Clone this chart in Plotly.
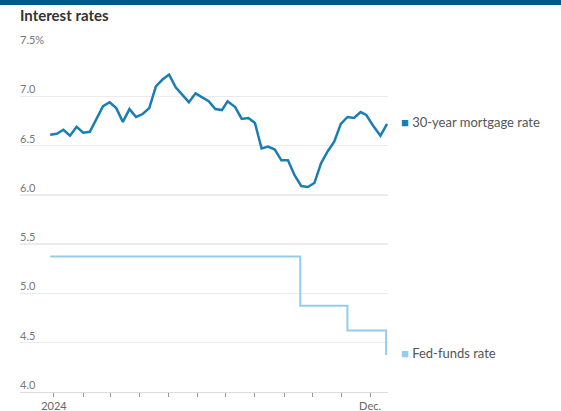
import plotly.graph_objects as go

mort_dates = ["2023-12-28","2024-01-04","2024-01-11","2024-01-18","2024-01-25","2024-02-01","2024-02-08",
              "2024-02-15","2024-02-22","2024-02-29","2024-03-07","2024-03-14","2024-03-21","2024-03-28",
              "2024-04-04","2024-04-11","2024-04-18","2024-04-25","2024-05-02","2024-05-09","2024-05-16",
              "2024-05-23","2024-05-30","2024-06-06","2024-06-13","2024-06-20","2024-06-27","2024-07-03",
              "2024-07-11","2024-07-18","2024-07-25","2024-08-01","2024-08-08","2024-08-15","2024-08-22",
              "2024-08-29","2024-09-05","2024-09-12","2024-09-19","2024-09-26","2024-10-03","2024-10-10",
              "2024-10-17","2024-10-24","2024-10-31","2024-11-07","2024-11-14","2024-11-21","2024-11-27",
              "2024-12-05","2024-12-12","2024-12-19"]
mort_rates = [6.61,6.62,6.66,6.60,6.69,6.63,6.64,6.77,6.90,6.94,6.88,6.74,6.87,6.79,6.82,6.88,7.10,7.17,7.22,
              7.09,7.02,6.94,7.03,6.99,6.95,6.87,6.86,6.95,6.89,6.77,6.78,6.73,6.47,6.49,6.46,6.35,6.35,6.20,
              6.09,6.08,6.12,6.32,6.44,6.54,6.72,6.79,6.78,6.84,6.81,6.69,6.60,6.72]

fed_dates = ["2023-12-28","2024-09-18","2024-11-07","2024-12-18"]
fed_rates = [5.375,4.875,4.625,4.375]

x_tickvals = ["2024-%02d-01" % m for m in range(1, 13)]
x_ticktext = ["2024"] + [""] * 10 + ["Dec."]
y_tickvals = [4.0, 4.5, 5.0, 5.5, 6.0, 6.5, 7.0, 7.5]
y_ticktext = ["4.0", "4.5", "5.0", "5.5", "6.0", "6.5", "7.0", "7.5%"]

MORT_COLOR = "#1a7db4"
FED_COLOR = "#95cced"
FONT = "Lato"

fig = go.Figure()
fig.add_trace(go.Scatter(x=fed_dates, y=fed_rates, mode="lines", line_shape="hv",
                         line=dict(color=FED_COLOR, width=2), hoverinfo="skip", showlegend=False))
fig.add_trace(go.Scatter(x=mort_dates, y=mort_rates, mode="lines",
                         line=dict(color=MORT_COLOR, width=2.5), hoverinfo="skip", showlegend=False))

annotations = []
for v, t in zip(y_tickvals, y_ticktext):
    annotations.append(dict(xref="paper", yref="y", x=0, y=v, text=t, showarrow=False,
                            xanchor="left", yanchor="bottom", yshift=-1, xshift=-2,
                            font=dict(family=FONT, size=11, color="#777777")))
annotations.append(dict(xref="paper", yref="paper", x=0, y=1, yshift=32, text="<b>Interest rates</b>",
                        showarrow=False, xanchor="left", yanchor="middle", xshift=-2,
                        font=dict(family=FONT, size=15, color="#333333")))
annotations.append(dict(xref="paper", yref="y", x=1.03, y=mort_rates[-1], yshift=2,
                        text='<span style="color:%s">■</span> 30-year mortgage rate' % MORT_COLOR,
                        showarrow=False, xanchor="left", yanchor="middle",
                        font=dict(family=FONT, size=13, color="#555555")))
annotations.append(dict(xref="paper", yref="y", x=1.03, y=fed_rates[-1], yshift=2,
                        text='<span style="color:%s">■</span> Fed-funds rate' % FED_COLOR,
                        showarrow=False, xanchor="left", yanchor="middle",
                        font=dict(family=FONT, size=13, color="#555555")))

fig.update_layout(
    width=561, height=411,
    margin=dict(l=20, r=173, t=47, b=19, autoexpand=False),
    plot_bgcolor="white", paper_bgcolor="white",
    annotations=annotations,
    shapes=[dict(type="rect", xref="paper", yref="paper", x0=-0.06, x1=1.48,
                 y0=1 + 42 / 345, y1=1.2, fillcolor="#005a8c", line=dict(width=0), layer="above")],
    xaxis=dict(range=["2023-11-26", "2024-12-20"], tickvals=x_tickvals, ticktext=x_ticktext,
               ticks="outside", ticklen=4, tickwidth=1, tickcolor="#999999", automargin=False,
               showgrid=False, showline=True, linecolor="#dddddd", linewidth=1,
               tickfont=dict(family=FONT, size=11, color="#666666"), fixedrange=True),
    yaxis=dict(range=[4.0, 7.5], tickvals=y_tickvals, showticklabels=False, automargin=False,
               showgrid=True, gridcolor="#ebebeb", gridwidth=1.5, zeroline=False,
               showline=False, fixedrange=True),
)

fig.write_html("out.html", config={"displayModeBar": False, "staticPlot": True},
               post_script="document.body.style.margin='0';document.body.style.overflow='hidden';")
